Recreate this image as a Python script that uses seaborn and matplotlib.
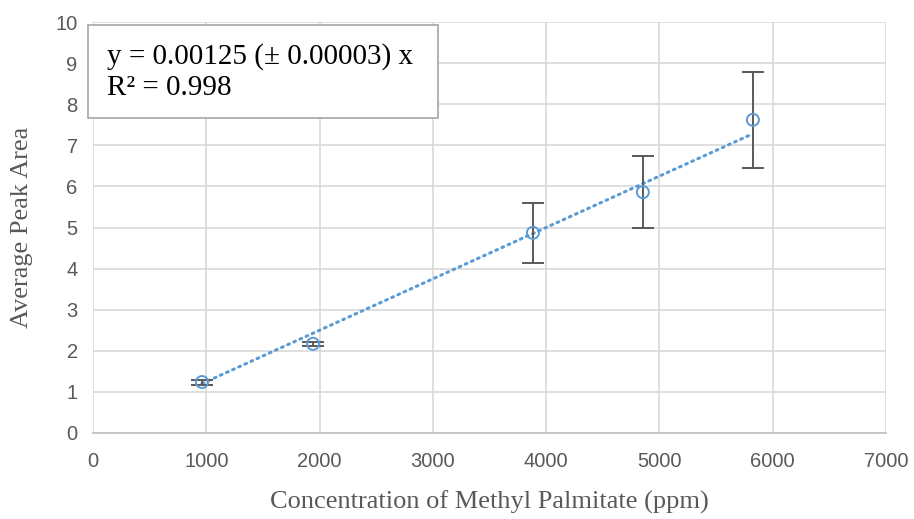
import matplotlib
matplotlib.use("Agg")
import matplotlib.pyplot as plt
import seaborn as sns
import numpy as np
import pandas as pd

# Calibration data for methyl palmitate
concentration = [962, 1942, 3883, 4854, 5825]
peak_area = [1.24, 2.17, 4.87, 5.86, 7.62]
peak_err = [0.06, 0.05, 0.73, 0.88, 1.17]
slope = 0.00125

x_ticks = [0, 1000, 2000, 3000, 4000, 5000, 6000, 7000]
y_ticks = list(range(0, 11))

sns.set_theme(style="whitegrid")
plt.rcParams["font.family"] = ["Liberation Serif", "DejaVu Serif"]

df = pd.DataFrame({"conc": concentration, "area": peak_area, "err": peak_err})

W, H = 914, 519
fig = plt.figure(figsize=(W / 100, H / 100), dpi=100)
ax = fig.add_axes([93 / W, 1 - 433 / H, (886 - 93) / W, (433 - 22) / H])

# Linear trendline through the origin
fit_x = np.array([df["conc"].min(), df["conc"].max()])
sns.lineplot(x=fit_x, y=slope * fit_x, ax=ax, color="#5b9bd5", lw=2.2,
             linestyle=(0, (0.6, 1.6)), dash_capstyle="round", zorder=3)

ax.errorbar(df["conc"], df["area"], yerr=df["err"], fmt="none",
            ecolor="#595959", elinewidth=1.4, capsize=8, capthick=1.4, zorder=4)
sns.scatterplot(data=df, x="conc", y="area", ax=ax, marker="o", s=75,
                facecolor="none", edgecolor="#5b9bd5", linewidth=1.4, zorder=5)

ax.set_xlim(0, 7000)
ax.set_ylim(0, 10)
ax.set_xticks(x_ticks)
ax.set_yticks(y_ticks)
ax.grid(True, color="#d9d9d9", lw=1.2)
for s in ["top", "right", "left"]:
    ax.spines[s].set_visible(False)
ax.spines["bottom"].set_color("#bfbfbf")
ax.spines["bottom"].set_linewidth(1.2)

tick_font = ["Liberation Sans Narrow", "Liberation Sans", "DejaVu Sans"]
for lab in ax.get_xticklabels() + ax.get_yticklabels():
    lab.set_family(tick_font)
    lab.set_fontsize(14.5)
    lab.set_color("#595959")
ax.tick_params(axis="x", pad=14, length=0)
ax.tick_params(axis="y", pad=11, length=0)

ax.set_xlabel("Concentration of Methyl Palmitate (ppm)", fontsize=19,
              color="#595959", labelpad=14)
ax.set_ylabel("Average Peak Area", fontsize=19, color="#595959", labelpad=16)

# Regression box
box = plt.Rectangle((88 / W, 1 - 118 / H), (438 - 88) / W, (118 - 25) / H,
                    transform=fig.transFigure, facecolor="white",
                    edgecolor="#a6a6a6", linewidth=1.2, zorder=6)
fig.add_artist(box)
fig.text(107 / W, 1 - 57 / H, "y = 0.00125 (± 0.00003) x", ha="left",
         va="center", fontsize=21, color="black", zorder=7)
fig.text(107 / W, 1 - 88 / H, "R² = 0.998", ha="left",
         va="center", fontsize=21, color="black", zorder=7)

fig.savefig("out.png", dpi=100)
